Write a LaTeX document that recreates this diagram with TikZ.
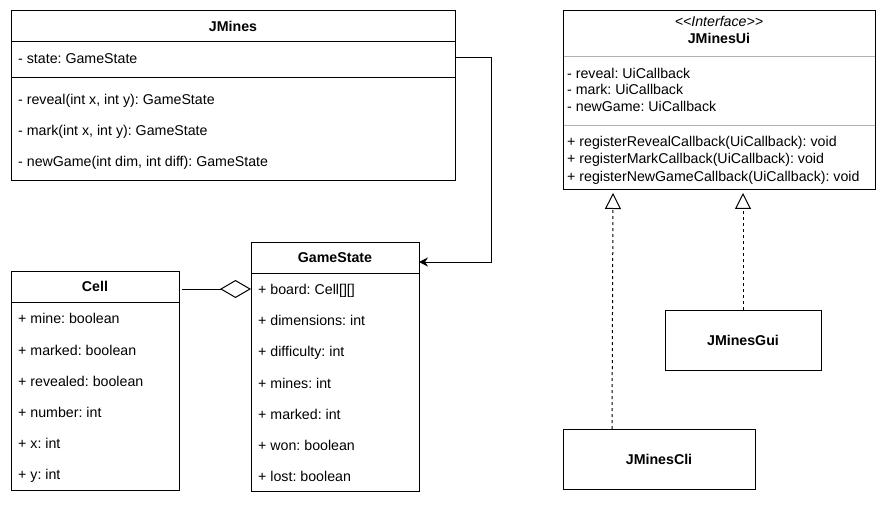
\documentclass[tikz,border=0pt]{standalone}
\usepackage{fontspec}
\setmainfont{Liberation Sans}
\usetikzlibrary{arrows.meta, calc, positioning}
\frenchspacing

\tikzset{
  classbox/.style={draw, line width=1pt, anchor=north west, inner sep=0pt, outer sep=0pt},
  member/.style={anchor=west, inner sep=0pt, text height=13pt, text depth=2pt, font=\fontsize{14.2}{17}\selectfont},
  ctitle/.style={inner sep=0pt, text height=13pt, text depth=2pt, font=\fontsize{14.2}{17}\selectfont\bfseries},
  sep/.style={line width=1pt},
  lightsep/.style={line width=1pt, gray!60},
  assoc/.style={line width=1pt, -{Stealth[length=9pt,width=9pt,inset=3pt]}},
  aggr/.style={line width=1pt, -{Diamond[open,fill=white,length=31pt,width=18pt]}},
  realize/.style={line width=1pt, dash pattern=on 3pt off 3pt, -{Triangle[open,fill=white,length=16pt,width=16pt]}}
}

\begin{document}
\begin{tikzpicture}[x=1pt,y=-1pt]
\useasboundingbox (0,0) rectangle (886,505);

% JMines
\node[classbox, minimum width=444pt, minimum height=170pt] (jmines) at (11,11) {};
\draw[sep] (11,42) -- (455,42);
\draw[sep] (11,78) -- (455,78);
\node[ctitle] (jminesT) at (233,26) {JMines};
\node[member] (jstate) at (18,58) {- state: GameState};
\node[member] (jreveal) at (18,99) {- reveal(int x, int y): GameState};
\node[member] (jmark) at (18,130) {- mark(int x, int y): GameState};
\node[member] (jnew) at (18,161) {- newGame(int dim, int diff): GameState};

% GameState
\node[classbox, minimum width=168pt, minimum height=249pt] (gstate) at (251,242) {};
\draw[sep] (251,273) -- (419,273);
\node[ctitle] (gstateT) at (335,257) {GameState};
\foreach \n/\y/\t in {gsboard/289/{+ board: Cell[][]}, gsdim/320/{+ dimensions: int},
    gsdiff/351/{+ difficulty: int}, gsmines/383/{+ mines: int}, gsmarked/414/{+ marked: int},
    gswon/445/{+ won: boolean}, gslost/476/{+ lost: boolean}} {
  \node[member] (\n) at (258,\y) {\t};
}

% Cell
\node[classbox, minimum width=168pt, minimum height=219pt] (cell) at (11,271) {};
\draw[sep] (11,302) -- (179,302);
\node[ctitle] (cellT) at (95,286) {Cell};
\foreach \n/\y/\t in {cmine/318/{+ mine: boolean}, cmarked/350/{+ marked: boolean},
    crev/381/{+ revealed: boolean}, cnum/412/{+ number: int}, cx/443/{+ x: int}, cy/474/{+ y: int}} {
  \node[member] (\n) at (18,\y) {\t};
}

% JMinesUi
\node[classbox, minimum width=312pt, minimum height=179pt] (ui) at (563,11) {};
\draw[lightsep] (563.5,57) -- (874.5,57);
\draw[lightsep] (563.5,126) -- (874.5,126);
\node[inner sep=0pt, text height=13pt, text depth=2pt, font=\fontsize{14.2}{17}\selectfont\itshape] (uiS) at (719,21) {{<}{<}Interface{>}{>}};
\node[ctitle] (uiT) at (719,38) {JMinesUi};
\node[member] (uirev) at (567,73) {- reveal: UiCallback};
\node[member] (uimark) at (567,89.5) {- mark: UiCallback};
\node[member] (uinew) at (567,106) {- newGame: UiCallback};
\node[member] (uirrc) at (567,141) {+ registerRevealCallback(UiCallback): void};
\node[member] (uirmc) at (567,158.5) {+ registerMarkCallback(UiCallback): void};
\node[member] (uirnc) at (567,176) {+ registerNewGameCallback(UiCallback): void};

% JMinesGui and JMinesCli
\node[classbox, minimum width=156pt, minimum height=60pt] (gui) at (665,310) {};
\node[ctitle] (guiT) at (gui.center) {JMinesGui};
\node[classbox, minimum width=192pt, minimum height=60pt] (cli) at (563,429) {};
\node[ctitle] (cliT) at (cli.center) {JMinesCli};

% Connectors
\coordinate (gsIn) at (419,262);
\draw[assoc] (jmines.east |- jstate) -- ++(36,0) |- (gsIn);
\draw[aggr] ([xshift=3pt]cell.east |- gsboard) -- (gstate.west |- gsboard);
\draw[realize] ([xshift=49pt]cli.north west) -- ($(ui.south west)+(50,3)$);
\draw[realize] (gui.north) -- ($(ui.south west)+(180,3)$);
\end{tikzpicture}
\end{document}
